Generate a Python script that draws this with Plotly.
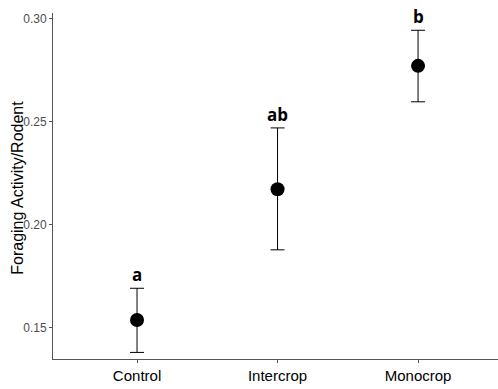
import plotly.graph_objects as go

categories = ["Control", "Intercrop", "Monocrop"]
means = [0.1536, 0.2172, 0.2772]
upper = [0.1690, 0.2470, 0.2945]
lower = [0.1378, 0.1877, 0.2597]
letters = ["a", "ab", "b"]
ytick_vals = [0.15, 0.20, 0.25, 0.30]
ytick_text = ["0.15", "0.20", "0.25", "0.30"]

xpos = list(range(len(categories)))
err_plus = [u - m for u, m in zip(upper, means)]
err_minus = [m - l for m, l in zip(means, lower)]

fig = go.Figure()
fig.add_trace(go.Scatter(
    x=xpos, y=means, mode="markers",
    marker=dict(color="black", size=14),
    error_y=dict(type="data", symmetric=False, array=err_plus, arrayminus=err_minus,
                 color="black", thickness=1, width=7),
    showlegend=False,
))

for x, u, t in zip(xpos, upper, letters):
    fig.add_annotation(x=x, y=u, text="<b>" + t + "</b>", showarrow=False,
                       yanchor="bottom", yshift=0,
                       font=dict(family="Open Sans, Liberation Sans, sans-serif", size=17, color="black"))

# y-axis title
fig.add_annotation(xref="paper", yref="paper", x=(18 - 53) / 445, y=0.495,
                   text="Foraging Activity/Rodent", textangle=-90, showarrow=False,
                   xanchor="center", yanchor="middle",
                   font=dict(family="Liberation Sans, Arial, sans-serif", size=16, color="black"))

fig.update_layout(
    width=498, height=389,
    margin=dict(l=53, r=0, t=13, b=30),
    plot_bgcolor="white", paper_bgcolor="white",
    font=dict(family="Liberation Sans, Arial, sans-serif"),
)
fig.update_xaxes(
    range=[-0.598, 2.569], tickvals=xpos, ticktext=categories,
    showline=True, linecolor="#555555", linewidth=1, mirror=False,
    ticks="outside", ticklen=3, tickcolor="#555555",
    tickfont=dict(size=15, color="black"), showgrid=False, zeroline=False,
)
fig.update_yaxes(
    range=[0.1346, 0.3029], tickvals=ytick_vals, ticktext=ytick_text,
    showline=True, linecolor="#555555", linewidth=1,
    ticks="outside", ticklen=3, tickcolor="#555555",
    tickfont=dict(size=12, color="#4d4d4d"), showgrid=False, zeroline=False,
)

fig.write_html("out.html")
